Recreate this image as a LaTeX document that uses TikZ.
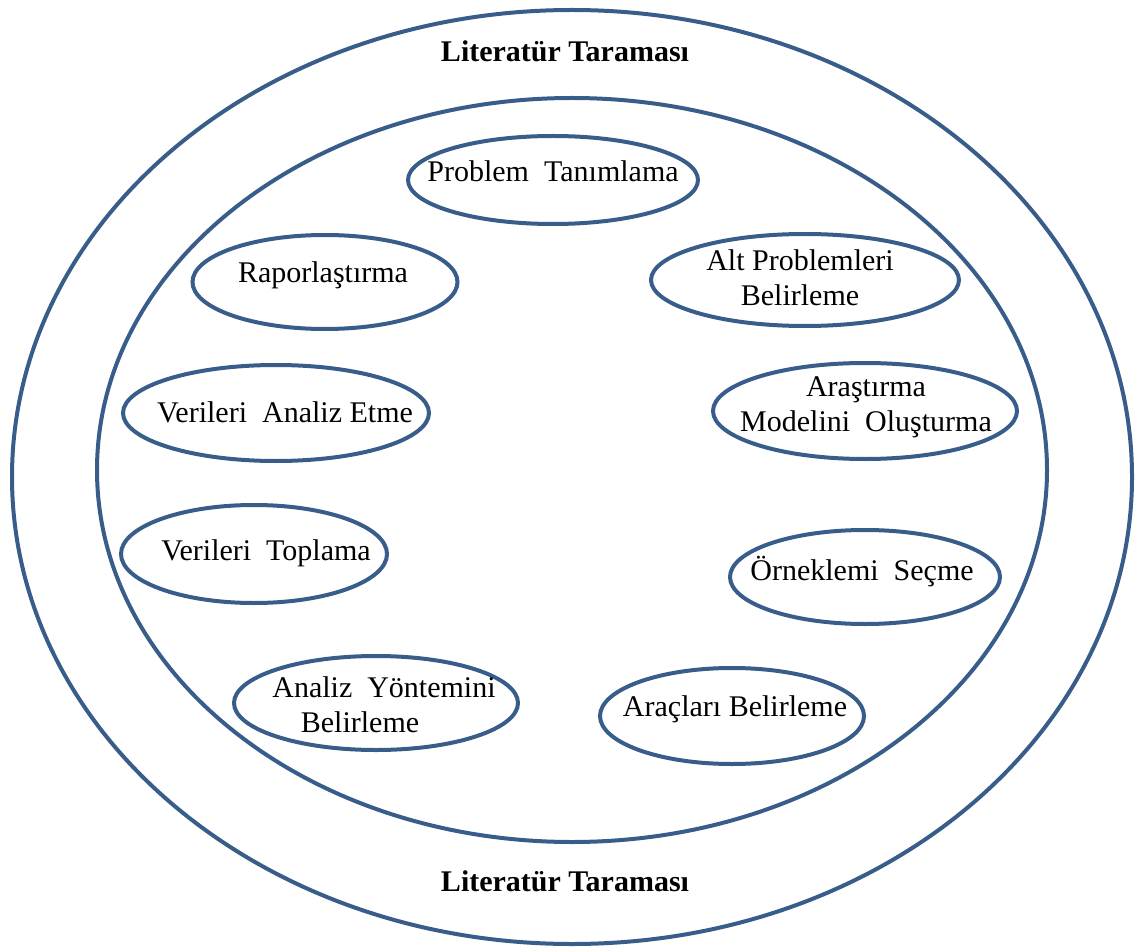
\documentclass[tikz,border=0pt]{standalone}
\usepackage{fontspec}
\setmainfont{Liberation Serif}
\usetikzlibrary{shapes.geometric}
\definecolor{edgeblue}{RGB}{56,93,138}
\begin{document}
\begin{tikzpicture}[x=1pt,y=-1pt,
  ring/.style={ellipse, draw=edgeblue, line width=4pt, inner sep=0pt},
  bubble/.style={ellipse, draw=edgeblue, line width=4pt, inner sep=0pt},
  txt/.style={inner sep=0pt, align=center, font=\fontsize{30}{35}\selectfont},
  title/.style={inner sep=0pt, font=\bfseries\fontsize{30}{36}\selectfont}]
\useasboundingbox (0,0) rectangle (1140,949);
% rings
\node[ring, minimum width=1120pt, minimum height=934pt] (outer) at (572,477) {};
\node[ring, minimum width=950pt, minimum height=744pt] (inner) at (572,470) {};
\node[title, anchor=base] (lt1) at (565,62) {Literatür Taraması};
\node[title, anchor=base] (lt2) at (565,891) {Literatür Taraması};
% bubbles
\node[bubble, minimum width=290pt, minimum height=88pt] (b1) at (553,180) {};
\node[bubble, minimum width=308pt, minimum height=92pt] (b2) at (805,280) {};
\node[bubble, minimum width=304pt, minimum height=96pt] (b3) at (865,411) {};
\node[bubble, minimum width=270pt, minimum height=94pt] (b4) at (865,577) {};
\node[bubble, minimum width=264pt, minimum height=96pt] (b5) at (732,716) {};
\node[bubble, minimum width=284pt, minimum height=94pt] (b6) at (376,703) {};
\node[bubble, minimum width=266pt, minimum height=98pt] (b7) at (254,554) {};
\node[bubble, minimum width=306pt, minimum height=96pt] (b8) at (276,413) {};
\node[bubble, minimum width=265pt, minimum height=94pt] (b9) at (325,282) {};
% texts
\node[txt, anchor=base] (t1) at (553,182) {Problem\ \ Tanımlama};
\node[txt] (t2) at (800,277.5) {Alt Problemleri\\Belirleme};
\node[txt] (t3) at (866,407.5) {Araştırma\\Modelini\ \ Oluşturma};
\node[txt, anchor=base] (t4) at (862,580) {Örneklemi\ \ Seçme};
\node[txt, anchor=base] (t5) at (735,716) {Araçları Belirleme};
\node[txt] (t6) at (378,705) {\hspace*{0.4em}Analiz\ \ Yöntemini\\Belirleme\hspace*{1.2em}};
\node[txt, anchor=base] (t7) at (266,560) {Verileri\ \ Toplama};
\node[txt, anchor=base] (t8) at (285,422) {Verileri\ \ Analiz Etme};
\node[txt, anchor=base] (t9) at (323,283) {Raporlaştırma};
\end{tikzpicture}
\end{document}
